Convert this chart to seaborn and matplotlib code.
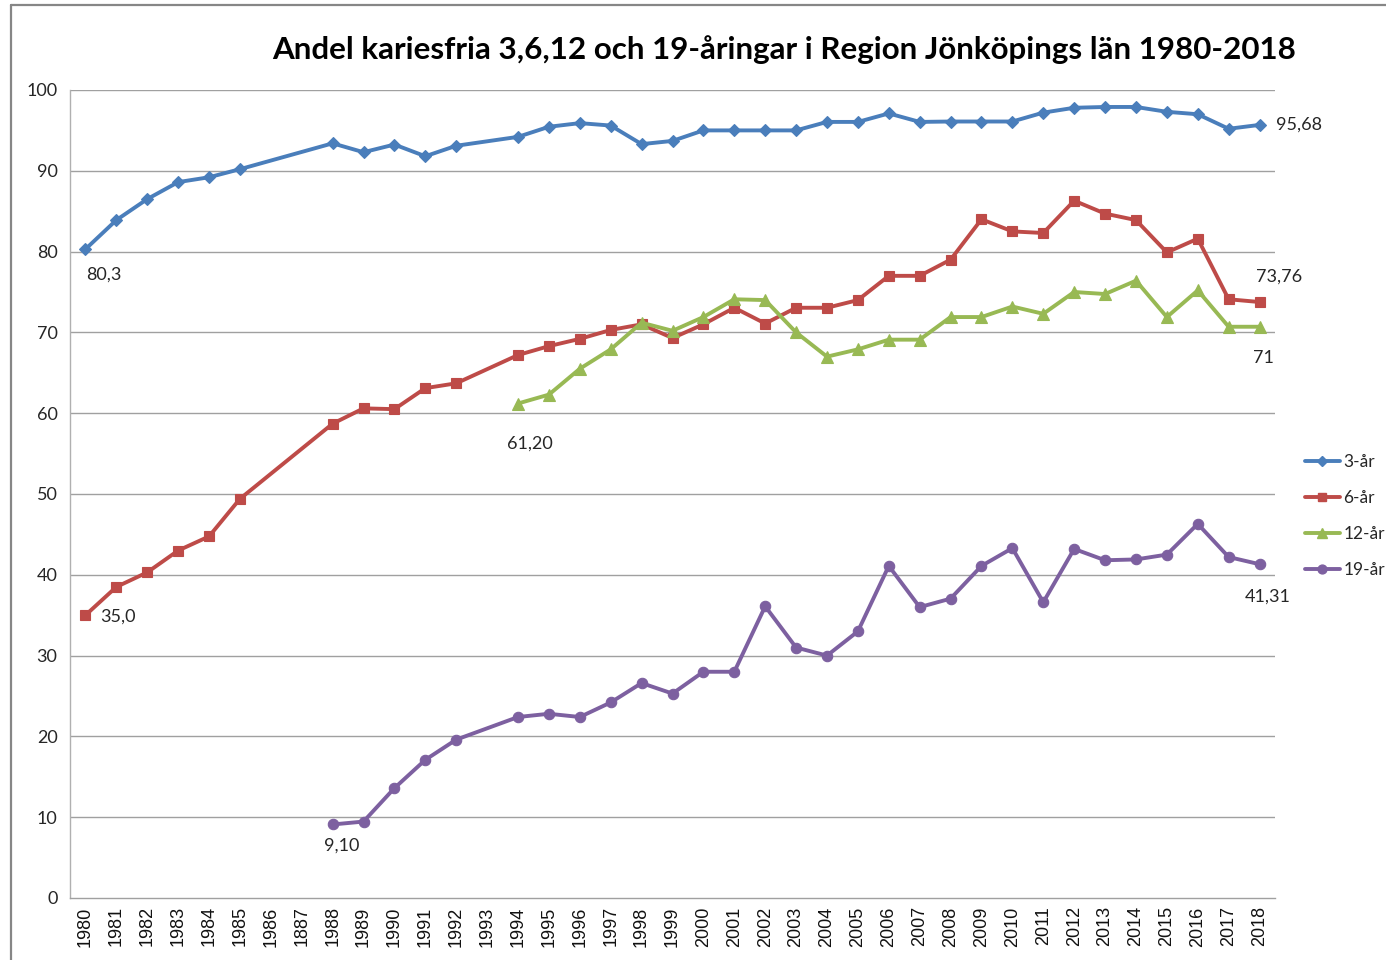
import numpy as np
import pandas as pd
import matplotlib
matplotlib.use("Agg")
import matplotlib.pyplot as plt
import seaborn as sns
from matplotlib.lines import Line2D

# ---------------- data ----------------
years = ["1980", "1981", "1982", "1983", "1984", "1985", "1986", "1887", "1988", "1989",
         "1990", "1991", "1992", "1993", "1994", "1995", "1996", "1997", "1998", "1999",
         "2000", "2001", "2002", "2003", "2004", "2005", "2006", "2007", "2008", "2009",
         "2010", "2011", "2012", "2013", "2014", "2015", "2016", "2017", "2018"]

N = None
ar3 = [80.3, 83.9, 86.5, 88.6, 89.2, 90.2, N, N, 93.4, 92.3,
       93.25, 91.8, 93.1, N, 94.2, 95.45, 95.9, 95.6, 93.3, 93.7,
       95.0, 95.0, 95.0, 95.0, 96.05, 96.05, 97.1, 96.05, 96.1, 96.1,
       96.1, 97.2, 97.8, 97.9, 97.9, 97.3, 97.0, 95.2, 95.68]
ar6 = [35.0, 38.5, 40.3, 43.0, 44.75, 49.4, N, N, 58.7, 60.6,
       60.5, 63.1, 63.7, N, 67.2, 68.3, 69.2, 70.3, 71.0, 69.3,
       71.0, 73.05, 71.1, 73.05, 73.05, 74.0, 77.0, 77.0, 79.0, 84.0,
       82.5, 82.3, 86.3, 84.7, 83.9, 79.9, 81.6, 74.1, 73.76]
ar12 = [N, N, N, N, N, N, N, N, N, N,
        N, N, N, N, 61.2, 62.3, 65.5, 67.9, 71.2, 70.2,
        71.9, 74.1, 74.0, 70.0, 67.0, 67.9, 69.1, 69.1, 71.9, 71.9,
        73.2, 72.3, 75.0, 74.75, 76.4, 71.9, 75.2, 70.7, 70.7]
ar19 = [N, N, N, N, N, N, N, N, 9.1, 9.46,
        13.6, 17.1, 19.6, N, 22.4, 22.8, 22.4, 24.2, 26.6, 25.3,
        28.0, 28.0, 36.1, 31.0, 30.0, 33.0, 41.1, 36.0, 37.05, 41.1,
        43.3, 36.6, 43.2, 41.8, 41.9, 42.5, 46.3, 42.2, 41.31]

series_names = ["3-år", "6-år", "12-år", "19-år"]
series_values = [ar3, ar6, ar12, ar19]

# data labels: (series, year, text)
point_labels = [("3-år", "1980", "80,3"), ("3-år", "2018", "95,68"),
                ("6-år", "1980", "35,0"), ("6-år", "2018", "73,76"),
                ("12-år", "1994", "61,20"), ("12-år", "2018", "71"),
                ("19-år", "1988", "9,10"), ("19-år", "2018", "41,31")]

title = "Andel kariesfria 3,6,12 och 19-åringar i Region Jönköpings län 1980-2018"

# ---------------- styling ----------------
colors = {"3-år": "#4A7EBB", "6-år": "#BE4B48", "12-år": "#98B954", "19-år": "#7D60A0"}
markers = {"3-år": "D", "6-år": "s", "12-år": "^", "19-år": "o"}
msizes = {"3-år": 6.5, "6-år": 7.5, "12-år": 8.5, "19-år": 7.5}
# label offsets in pixels (dx, dy) and horizontal alignment
label_pos = {("3-år", "1980"): (18, -25, "center"), ("3-år", "2018"): (16, 0, "left"),
             ("6-år", "1980"): (15, -1, "left"), ("6-år", "2018"): (20, 25, "center"),
             ("12-år", "1994"): (12, -40, "center"), ("12-år", "2018"): (4, -31, "center"),
             ("19-år", "1988"): (9, -21, "center"), ("19-år", "2018"): (8, -32, "center")}

sns.set_style("white")
plt.rcParams["font.family"] = ["Lato", "DejaVu Sans"]

df = pd.DataFrame({"pos": np.arange(len(years)), "year": years})
for name, vals in zip(series_names, series_values):
    df[name] = pd.Series(vals, dtype=float)

fig = plt.figure(figsize=(13.86, 9.6), dpi=100)
ax = fig.add_axes([70 / 1386, 62 / 960, 1205 / 1386, 808 / 960])

grid_c = "#a0a0a0"
for yv in range(10, 101, 10):
    ax.axhline(yv, color=grid_c, lw=1.0, zorder=0)

for name in series_names:
    sub = df[["pos", name]].dropna()
    sns.lineplot(x=sub["pos"], y=sub[name], ax=ax, color=colors[name],
                 linewidth=2.8, marker=markers[name], markersize=msizes[name],
                 markeredgecolor=colors[name], markeredgewidth=0.8,
                 label=name, zorder=3, legend=False)

for name, yr, txt in point_labels:
    i = years.index(yr)
    v = df.loc[i, name]
    dx, dy, ha = label_pos[(name, yr)]
    ax.annotate(txt, (i, v), xytext=(dx, dy), textcoords="offset pixels",
                ha=ha, va="center", fontsize=13, color="#262626")

ax.set_xlim(-0.5, len(years) - 0.5)
ax.set_ylim(0, 100)
ax.set_xlabel("")
ax.set_ylabel("")

# x ticks: marks at category boundaries, labels at centres
ax.set_xticks(np.arange(-0.5, len(years), 1.0))
ax.set_xticklabels([])
ax.set_xticks(np.arange(len(years)), minor=True)
ax.set_xticklabels(years, minor=True, rotation=90, fontsize=13,
                   family=["Liberation Sans", "DejaVu Sans"], color="#111111")
ax.tick_params(axis="x", which="major", length=6, width=1, color=grid_c, direction="out")
ax.tick_params(axis="x", which="minor", length=0, pad=6)

ax.set_yticks(range(0, 101, 10))
ax.set_yticklabels([str(v) for v in range(0, 101, 10)], fontsize=13, color="#262626")
ax.tick_params(axis="y", length=5, width=1, color=grid_c, direction="out", pad=4)

for s in ["top", "right"]:
    ax.spines[s].set_visible(False)
ax.spines["left"].set_color("#b0b0b0")
ax.spines["bottom"].set_color(grid_c)
ax.spines["left"].set_linewidth(1.0)
ax.spines["bottom"].set_linewidth(1.0)

# legend
handles = [Line2D([0], [0], color=colors[n], lw=2.8, marker=markers[n],
                  markersize=msizes[n] * 0.85, markeredgecolor=colors[n]) for n in series_names]
fig.legend(handles, series_names, loc="center left",
           bbox_to_anchor=(1305 / 1386, 1 - 516 / 960), frameon=False,
           fontsize=12.5, handlelength=2.0, handletextpad=0.22, labelspacing=1.16,
           borderpad=0, borderaxespad=0)

fig.text(784 / 1386, 1 - 50 / 960, title, ha="center", va="center",
         fontsize=22.6, fontweight="bold", color="black")

# outer chart frame (left and top edges visible)
fig.add_artist(Line2D([11 / 1386, 11 / 1386], [0, 1 - 5 / 960], transform=fig.transFigure,
                      color="#868686", lw=1.6))
fig.add_artist(Line2D([11 / 1386, 1], [1 - 5 / 960, 1 - 5 / 960], transform=fig.transFigure,
                      color="#868686", lw=1.6))

fig.savefig("out.png", dpi=100)
